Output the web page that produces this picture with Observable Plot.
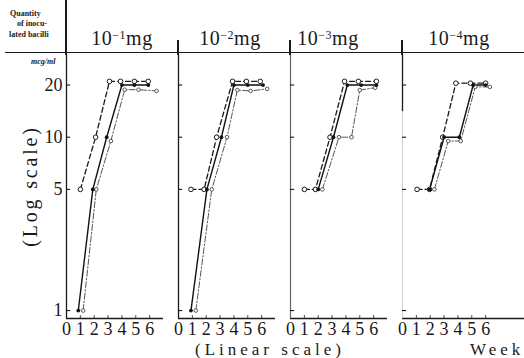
<!DOCTYPE html>
<html>
<head>
<meta charset="utf-8">
<script src="https://cdn.jsdelivr.net/npm/d3@7"></script>
<script src="https://cdn.jsdelivr.net/npm/@observablehq/plot@0.6"></script>
<style>
  html, body { margin: 0; padding: 0; background: #fff; }
  #wrap { position: relative; width: 524px; height: 358px; overflow: hidden;
          font-family: "Liberation Serif", "DejaVu Serif", serif; color: #1a1a1a; }
  #wrap svg { position: absolute; left: 0; top: 0; }
  #wrap svg text { font-family: "Liberation Serif", "DejaVu Serif", serif; }
  .abs { position: absolute; white-space: nowrap; }
  .hline { position: absolute; background: #1a1a1a; }
  .small { font-size: 8px; font-weight: bold; line-height: 8px; }
  .ptitle { font-size: 20px; line-height: 20px; transform: translateX(-50%); letter-spacing: 0.5px; }
  .ptitle sup { font-size: 12px; vertical-align: 6px; line-height: 0; }
  .axlabel { font-size: 17px; line-height: 17px; letter-spacing: 4px; }
</style>
</head>
<body>
<div id="wrap"></div>
<script>
// ---- data ----
const panelKeys = ["p1", "p2", "p3", "p4"];
const panelExponents = ["−1", "−2", "−3", "−4"];
const weekTicks = [0, 1, 2, 3, 4, 5, 6];
const valueTicks = [1, 5, 10, 20];

// [week, mcg/ml]
const p1Dashed  = [[1.0, 5], [2.1, 10], [3.1, 21], [3.9, 21], [4.9, 21], [5.9, 21]];
const p1Solid   = [[0.85, 1], [1.9, 5], [2.9, 10], [4.0, 20], [4.9, 20], [5.9, 20]];
const p1DashDot = [[1.2, 1], [2.15, 5], [3.2, 9.5], [4.2, 18.8], [5.2, 18.8], [6.5, 18.5]];

const p2Dashed  = [[0.9, 5], [1.85, 5], [2.75, 10], [3.9, 21], [4.9, 21], [5.9, 21]];
const p2Solid   = [[0.9, 1], [2.05, 5], [3.1, 10], [4.0, 20], [5.0, 20], [6.1, 20]];
const p2DashDot = [[1.25, 1], [2.4, 5], [3.5, 10], [4.25, 18.7], [5.2, 18.5], [6.4, 19]];

const p3Dashed  = [[1.0, 5], [1.8, 5], [2.85, 10], [3.9, 21], [4.9, 21], [6.2, 21]];
const p3Solid   = [[2.0, 5], [3.1, 10], [4.1, 20], [5.1, 20], [6.2, 20]];
const p3DashDot = [[2.3, 5], [3.5, 10], [4.4, 10], [5.0, 18.7], [6.1, 19.3]];

const p4Dashed  = [[1.05, 5], [1.95, 5], [2.9, 10], [3.85, 20.5], [4.9, 20.5], [6.0, 20.5]];
const p4Solid   = [[1.96, 5], [3.0, 10], [4.1, 10], [5.1, 20], [6.0, 20]];
const p4DashDot = [[2.3, 5], [3.3, 9.5], [4.2, 9.5], [5.25, 19.5], [6.3, 19.5]];

const seriesList = [
  ["p1", "dashed", p1Dashed], ["p1", "solid", p1Solid], ["p1", "dashdot", p1DashDot],
  ["p2", "dashed", p2Dashed], ["p2", "solid", p2Solid], ["p2", "dashdot", p2DashDot],
  ["p3", "dashed", p3Dashed], ["p3", "solid", p3Solid], ["p3", "dashdot", p3DashDot],
  ["p4", "dashed", p4Dashed], ["p4", "solid", p4Solid], ["p4", "dashdot", p4DashDot]
];
const rows = seriesList.flatMap(([panel, style, pts]) =>
  pts.map(([week, value]) => ({panel, style, week, value})));
const by = s => rows.filter(r => r.style === s);

const ink = "#1a1a1a";
const serif = "'Liberation Serif', 'DejaVu Serif', serif";
const chart = Plot.plot({
  width: 524, height: 358,
  marginLeft: 66, marginRight: 25, marginTop: 54, marginBottom: 40,
  style: {fontFamily: serif, fontSize: "18px", background: "transparent", color: ink},
  fx: {domain: panelKeys, paddingInner: 0.134, paddingOuter: 0, round: false, axis: null, label: null},
  x: {domain: [0, 7], axis: null},
  y: {type: "log", domain: [0.9, 30], axis: null},
  marks: [
    // x axis baseline (repeated in every panel) + extension of the last one
    Plot.ruleY([0.9], {stroke: ink, strokeWidth: 1.3}),
    Plot.ruleY([0.9], {fx: () => "p4", x1: 7, x2: 9.5, stroke: ink, strokeWidth: 1.3}),
    // y axis lines
    Plot.ruleX(["p1", "p2"], {fx: d => d, x: 0, stroke: ink, strokeWidth: 1.3}),
    Plot.ruleX(["p3"], {fx: d => d, x: 0, stroke: "#666", strokeWidth: 1.2}),
    Plot.ruleX(["p4"], {fx: d => d, x: 0, y1: 14, y2: 30, stroke: ink, strokeWidth: 1.3}),
    Plot.ruleX(["p4"], {fx: d => d, x: 0, y1: 0.9, y2: 14, stroke: "#d0d0d0", strokeWidth: 1}),
    // small inward ticks
    Plot.ruleY(valueTicks, {x1: 0, x2: 0.3, stroke: ink, strokeWidth: 1.1}),
    Plot.ruleX(weekTicks.slice(1), {y1: 0.9, y2: 0.935, stroke: "#444", strokeWidth: 1}),
    // tick labels
    Plot.axisY({ticks: valueTicks, tickSize: 0, tickPadding: 4, tickFormat: d => String(d), label: null, fontSize: 18, fontFamily: serif}),
    Plot.axisX({ticks: weekTicks, tickSize: 0, tickPadding: 4, tickFormat: d => String(d), label: null, fontSize: 18, fontFamily: serif}),
    // series
    Plot.line(by("dashdot"), {x: "week", y: "value", fx: "panel", stroke: "#555", strokeWidth: 1, strokeDasharray: "6,2,1.5,2"}),
    Plot.line(by("dashed"), {x: "week", y: "value", fx: "panel", stroke: ink, strokeWidth: 1.3, strokeDasharray: "5,3"}),
    Plot.line(by("solid"), {x: "week", y: "value", fx: "panel", stroke: "#111", strokeWidth: 1.4}),
    Plot.dot(by("dashdot"), {x: "week", y: "value", fx: "panel", r: 1.8, fill: "white", stroke: "#555", strokeWidth: 1}),
    Plot.dot(by("dashed"), {x: "week", y: "value", fx: "panel", r: 2.3, fill: "white", stroke: ink, strokeWidth: 1}),
    Plot.dot(by("solid"), {x: "week", y: "value", fx: "panel", r: 1.9, fill: "#111"})
  ]
});

const wrap = document.getElementById("wrap");
wrap.appendChild(chart);

// ---- header / annotations ----
function add(html, cls, css) {
  const d = document.createElement("div");
  d.className = cls;
  d.innerHTML = html;
  Object.assign(d.style, css);
  wrap.appendChild(d);
  return d;
}
add("", "hline", {left: "5px", top: "52px", width: "519px", height: "1.3px"});
add("", "hline", {left: "65.4px", top: "0px", width: "1.3px", height: "55px"});
[178, 290, 402].forEach(x => add("", "hline", {left: (x - 0.6) + "px", top: "40px", width: "1.3px", height: "15px"}));

add("Quantity", "abs small", {left: "10px", top: "10px"});
add("of inocu-", "abs small", {left: "17px", top: "20px"});
add("lated bacilli", "abs small", {left: "9px", top: "31px"});
add("mcg/ml", "abs small", {left: "31px", top: "58px", fontStyle: "italic"});

const titleX = [122, 230, 328, 459];
panelExponents.forEach((e, i) =>
  add(`10<sup>${e}</sup>mg`, "abs ptitle", {left: titleX[i] + "px", top: "28px"}));

add("(Log scale)", "abs axlabel", {left: "30px", top: "186px", fontSize: "20px", letterSpacing: "2.8px",
  transform: "translate(-50%, -50%) rotate(-90deg)"});
add("(Linear scale)", "abs axlabel", {left: "195px", top: "341px"});
add("Week", "abs axlabel", {left: "470px", top: "341px"});
</script>
</body>
</html>
